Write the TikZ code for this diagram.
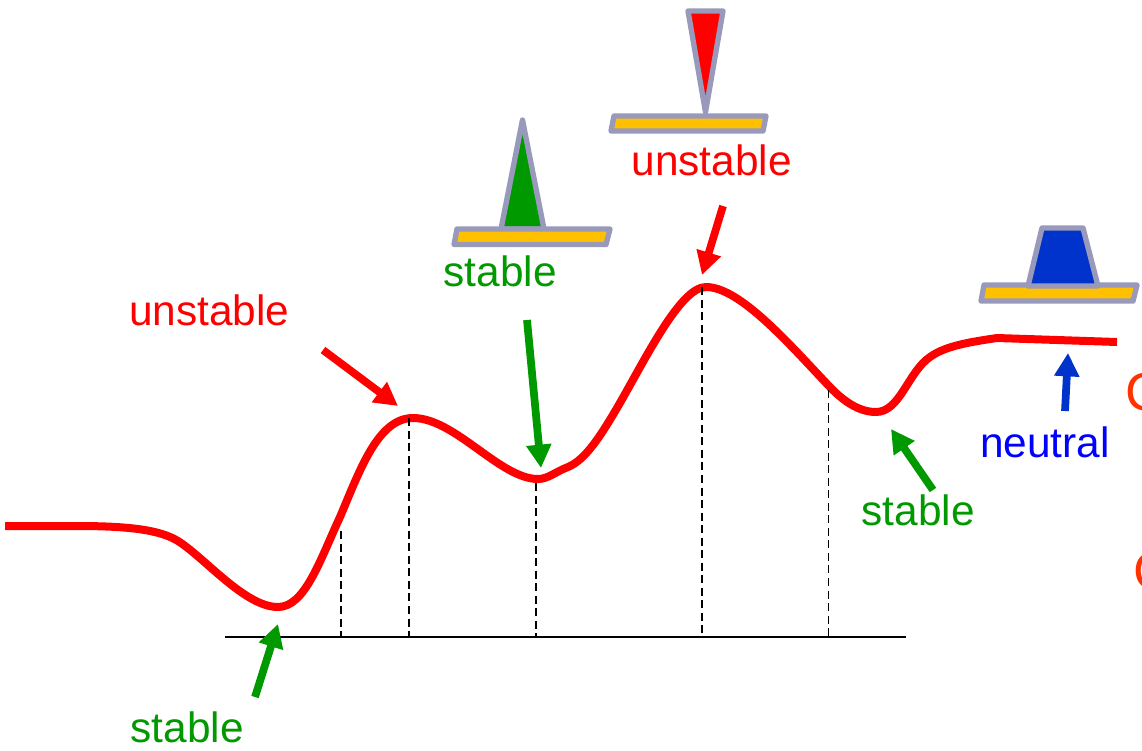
\documentclass[tikz,border=0pt]{standalone}
\usepackage{fontspec}
\setmainfont{Liberation Sans}
\usetikzlibrary{arrows.meta}
\definecolor{cred}{HTML}{FF0000}
\definecolor{cgreen}{HTML}{009900}
\definecolor{cblue}{HTML}{0033CC}
\definecolor{tblue}{HTML}{0000FF}
\definecolor{corange}{HTML}{FF3300}
\definecolor{cgold}{HTML}{FFC000}
\definecolor{cedge}{HTML}{9999BB}
\tikzset{
  x=0.75pt,y=-0.75pt,
  lbl/.style={anchor=base west,inner sep=0pt,outer sep=0pt,font=\fontsize{31.8}{36}\selectfont},
  bigl/.style={anchor=base west,inner sep=0pt,outer sep=0pt,text=corange,font=\fontsize{40}{44}\selectfont},
  pointer/.style={line width=5.8pt,-{Triangle[length=17.5pt,width=18pt]}},
  curve/.style={draw=cred,line width=6pt,line join=round},
  guide/.style={black,line width=1.3pt,dash pattern=on 6pt off 3.4pt},
  axisline/.style={black,line width=1.5pt},
  hatpart/.style={draw=cedge,line width=4pt,line join=round},
}
\begin{document}
\begin{tikzpicture}
\clip (0,0) rectangle (1142,750);
\fill[white] (0,0) rectangle (1142,750);
% curve
\draw[curve] (5,526) -- (77,526)
  .. controls (130,526) and (160,530) .. (178,541)
  .. controls (205,558) and (245,607) .. (278,607)
  .. controls (305,607) and (320,560) .. (340,517)
  .. controls (360,470) and (378,418) .. (413,418)
  .. controls (455,418) and (500,479) .. (538,479)
  .. controls (548,479) and (555,472) .. (568,467)
  .. controls (585,460) and (600,437) .. (617,408)
  .. controls (645,360) and (680,287) .. (706,287)
  .. controls (740,287) and (790,345) .. (828,385)
  .. controls (842,400) and (858,412) .. (876,412)
  .. controls (900,412) and (908,372) .. (930,357)
  .. controls (945,346) and (970,342) .. (997,338)
  -- (1117,342);
% guides
\coordinate (a1) at (341,637);\coordinate (t1) at (341,531);
\coordinate (a2) at (409,637);\coordinate (t2) at (409,418);
\coordinate (a3) at (536,637);\coordinate (t3) at (536,483);
\coordinate (a4) at (702,637);\coordinate (t4) at (702,287);
\coordinate (a5) at (828.5,637);\coordinate (t5) at (828.5,390);
\coordinate (axl) at (225,637);\coordinate (axr) at (906,637);
\foreach \n in {1,...,5}{\draw[guide] (t\n) -- (a\n);}
\draw[axisline] (axl) -- (axr);
% hats
\draw[hatpart,fill=cred] (688,11) -- (723,11) -- (705.5,112) -- cycle;
\draw[hatpart,fill=cgold] (614,116) -- (766,116) -- (763,131) -- (611,131) -- cycle;
\draw[hatpart,fill=cgreen] (522.5,120) -- (544,229) -- (501,229) -- cycle;
\draw[hatpart,fill=cgold] (457,229) -- (610,229) -- (606,244.5) -- (454,244.5) -- cycle;
\draw[hatpart,fill=cgold] (984,285) -- (1137,285) -- (1133,301) -- (981,301) -- cycle;
\draw[hatpart,fill=cblue] (1042,228) -- (1083,228) -- (1098,286) -- (1028,286) -- cycle;
% labels
\node[lbl,text=cred] (uleft) at (129,325) {unstable};
\node[lbl,text=cred] (utop) at (631.5,175) {unstable};
\node[lbl,text=cgreen] (smid) at (443.5,286) {stable};
\node[lbl,text=cgreen] (sright) at (861.5,525) {stable};
\node[lbl,text=cgreen] (sbot) at (130.5,742) {stable};
\node[lbl,text=tblue] (neut) at (980,457) {neutral};
\node[bigl] (c1) at (1125,410) {C};
\node[bigl] (c2) at (1133,589) {C};
% pointers
\coordinate (p1s) at (255,697);\coordinate (p1e) at (278,624);
\coordinate (p2s) at (323,350);\coordinate (p2e) at (398,406);
\coordinate (p3s) at (527,320);\coordinate (p3e) at (541,468);
\coordinate (p4s) at (723,206);\coordinate (p4e) at (702,275);
\coordinate (p5s) at (933,490);\coordinate (p5e) at (891,429);
\coordinate (p6s) at (1065,411);\coordinate (p6e) at (1068,353);
\draw[pointer,cgreen] (p1s) -- (p1e);
\draw[pointer,cred] (p2s) -- (p2e);
\draw[pointer,cgreen] (p3s) -- (p3e);
\draw[pointer,cred] (p4s) -- (p4e);
\draw[pointer,cgreen] (p5s) -- (p5e);
\draw[pointer,cblue] (p6s) -- (p6e);
\end{tikzpicture}
\end{document}
